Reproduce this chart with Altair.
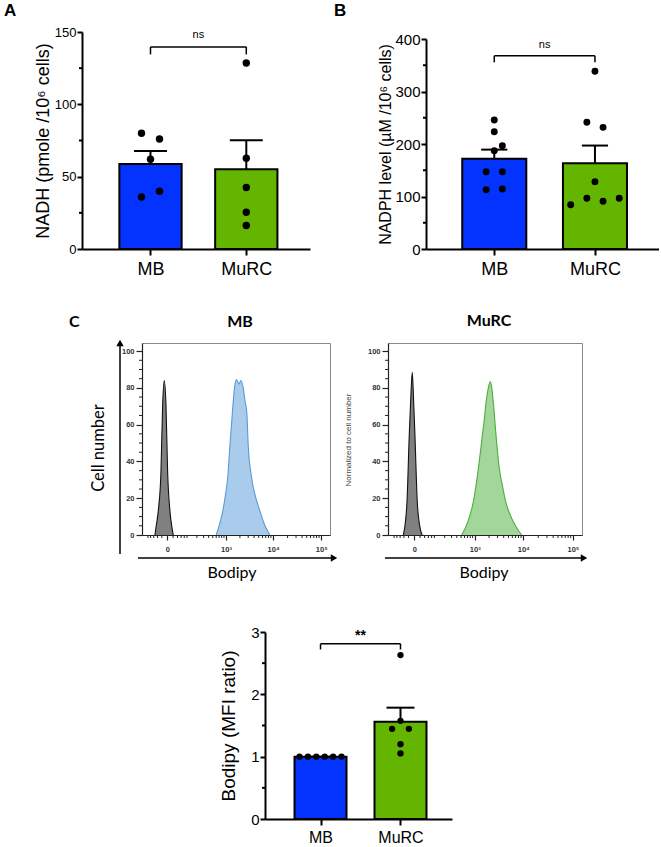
import altair as alt
import pandas as pd

FONT = "Liberation Sans, Arial, sans-serif"
HFONT = "Lato"
NARROW = "Liberation Sans Narrow, Liberation Sans, Arial, sans-serif"
BLUE = "#0433FF"
GREEN = "#63B500"

groups = ["MB", "MuRC"]

# ---------------- Panel A: NADH (pmole / 10^6 cells) ----------------
nadh_mb = [80, 76, 62, 36, 40]
nadh_mb_col = [-1, 1, 0, -1, 1]
nadh_murc = [128.6, 62.8, 42.5, 25.4, 16.2]
nadh_murc_col = [0, 0, 0, 0, 0]

# ---------------- Panel B: NADPH level ----------------
nadph_mb = [245.7, 223.5, 196.8, 187.3, 147.3, 147.3, 113.0, 114.3]
nadph_mb_col = [0, 0, 1, 0, -1, 1, -1, 1]
nadph_murc = [338.4, 241.3, 231.7, 128.3, 84.4, 96.5, 90.8, 96.5]
nadph_murc_col = [0, -1, 1, 0, -3, -1, 1, 3]

# ---------------- Panel C bottom: Bodipy MFI ratio ----------------
mfi_mb = [1.0, 1.0, 1.0, 1.0, 1.0, 1.0]
mfi_mb_col = [-5, -3, -1, 1, 3, 5]
mfi_murc = [2.63, 1.575, 1.446, 1.446, 1.20, 1.052]
mfi_murc_col = [0, 0, -2, 2, 0, 0]

# ---------------- Flow histograms (Bodipy fluorescence, % of max) ----------------
mb_ctrl_x = [-53, -47.5, -35.8, -23.7, -16.7, -10.7, -4.8, 0.6, 8.2, 15.6, 20.7]
mb_ctrl_y = [0, 4, 13, 34, 71, 84, 71, 34, 13, 4, 0]
mb_stain_x = [600, 700, 841, 1000, 1086, 1219, 1380, 1530, 1700, 1900, 2100,
              2350, 2600, 2800, 3000, 3550, 4170, 5300, 6760, 8600]
mb_stain_y = [0, 5, 12.7, 24, 31, 49, 67, 80, 84.5, 82, 84,
              80, 72, 67, 49, 31, 22, 13, 5, 0]

murc_ctrl_x = [-43, -35, -26, -17, -12, -6.3, -1.8, 2.1, 9.7, 18.5, 29]
murc_ctrl_y = [0, 5, 18, 54, 72, 88.5, 72, 54, 18, 5, 0]
murc_stain_x = [518, 705, 933, 1193, 1449, 1596, 1732, 1934, 2128, 2274, 2453,
                2790, 3260, 3757, 4410, 5840, 7730, 9310]
murc_stain_y = [0, 7, 18, 36, 54, 63, 72, 80, 83.5, 80, 72,
                54, 36, 27, 18, 9, 3, 0]

flow_major = [0, 1000, 10000, 100000]
flow_minor = [-100, -80, -60, -40, -20, 20, 40, 60, 80, 100,
              200, 300, 400, 500, 600, 700, 800, 900,
              2000, 3000, 4000, 5000, 6000, 7000, 8000, 9000,
              20000, 30000, 40000, 50000, 60000, 70000, 80000, 90000]
pct_major = [0, 20, 40, 60, 80, 100]
pct_minor = [v for v in range(5, 100, 5) if v % 20 != 0]


def one_row():
    return pd.DataFrame({"k": [0]})


def spacer(w, h):
    return alt.Chart(one_row()).mark_point(opacity=0).encode(
        x=alt.X("k:Q", axis=None), y=alt.Y("k:Q", axis=None)
    ).properties(width=w, height=h)


def markers(ys):
    # invisible points that fix the vertical extent of a row in the page layout
    return [alt.Chart(one_row()).mark_point(opacity=0, size=1).encode(
        x=alt.value(20), y=alt.value(v)) for v in ys]


def bar_panel(vals_mb, cols_mb, vals_murc, cols_murc, *, width, height, ydomain,
              ymajor, yminor, xdomain, halfw, caphw, unit, ytitle, ytitle_size,
              ylab_size, xlab_size, ytitle_pad, br_top, br_leg, br_text, br_text_y,
              br_text_size, br_bold, dot_size, label=None, label_x=0, label_y=0,
              extent=(), xlab_pad=5):
    df = pd.DataFrame({
        "g": ["MB"] * len(vals_mb) + ["MuRC"] * len(vals_murc),
        "gi": [0] * len(vals_mb) + [1] * len(vals_murc),
        "v": vals_mb + vals_murc,
        "col": cols_mb + cols_murc,
    })
    xs = alt.Scale(domain=xdomain, nice=False, zero=False)
    ys = alt.Scale(domain=ydomain, nice=False, zero=False)
    xaxis = alt.Axis(values=[0, 1], labelExpr="datum.value == 0 ? 'MB' : 'MuRC'",
                     title=None, grid=False, domainColor="black", domainWidth=2,
                     tickColor="black", tickWidth=2, tickSize=6, labelFont=FONT,
                     labelFontSize=xlab_size, labelColor="black",
                     labelPadding=xlab_pad)
    yaxis = alt.Axis(values=ymajor, title=ytitle, grid=False, domainColor="black",
                     domainWidth=2, tickColor="black", tickWidth=2, tickSize=5,
                     labelFont=FONT, labelFontSize=ylab_size, labelColor="black",
                     labelPadding=1, titleFont=FONT, titleFontSize=ytitle_size,
                     titleFontWeight="normal", titleColor="black",
                     titlePadding=ytitle_pad)

    def X(f):
        return alt.X(f, scale=xs, axis=xaxis)

    def Y(f):
        return alt.Y(f, scale=ys, axis=yaxis)

    base = alt.Chart(df)
    agg = base.transform_aggregate(
        mean="mean(v)", se="stderr(v)", groupby=["g", "gi"]
    ).transform_calculate(
        x0=f"datum.gi - {halfw}", x1=f"datum.gi + {halfw}",
        c0=f"datum.gi - {caphw}", c1=f"datum.gi + {caphw}",
        top="datum.mean + datum.se",
    )
    bars = agg.mark_rect(stroke="black", strokeWidth=2).encode(
        x=X("x0:Q"), x2="x1:Q", y=Y("mean:Q"), y2=alt.datum(0),
        color=alt.Color("g:N", scale=alt.Scale(domain=groups, range=[BLUE, GREEN]),
                        legend=None),
    )
    err = agg.mark_rule(color="black", strokeWidth=2).encode(
        x=X("gi:Q"), y=Y("mean:Q"), y2="top:Q")
    cap = agg.mark_rule(color="black", strokeWidth=2).encode(
        x=X("c0:Q"), x2="c1:Q", y=Y("top:Q"))
    minor = alt.Chart(pd.DataFrame({"t": yminor})).mark_rule(
        color="black", strokeWidth=2
    ).encode(y=Y("t:Q"), x=alt.value(0), x2=alt.value(-3))
    dots = base.transform_calculate(xp=f"datum.gi + datum.col * {unit}").mark_circle(
        size=dot_size, color="black", opacity=1
    ).encode(x=X("xp:Q"), y=Y("v:Q"))
    br = pd.DataFrame({"a": [0], "b": [1], "yt": [br_top], "ty": [br_text_y],
                       "mid": [0.5], "txt": [br_text]})
    legs = pd.DataFrame({"p": [0, 1], "yt": [br_top] * 2, "yl": [br_leg] * 2})
    br_line = alt.Chart(br).mark_rule(color="black", strokeWidth=1.5).encode(
        x=X("a:Q"), x2="b:Q", y=Y("yt:Q"))
    br_legs = alt.Chart(legs).mark_rule(color="black", strokeWidth=1.5).encode(
        x=X("p:Q"), y=Y("yl:Q"), y2="yt:Q")
    br_txt = alt.Chart(br).mark_text(
        baseline="middle", font=FONT, fontSize=br_text_size,
        fontWeight="bold" if br_bold else "normal", color="black"
    ).encode(x=X("mid:Q"), y=Y("ty:Q"), text="txt:N")
    layers = [bars, err, cap, minor, dots, br_line, br_legs, br_txt]
    if label:
        lab = alt.Chart(pd.DataFrame({"t": [label]})).mark_text(
            align="left", baseline="top", font=FONT, fontWeight="bold", fontSize=17,
            color="black"
        ).encode(x=alt.value(label_x), y=alt.value(label_y), text="t:N")
        layers.append(lab)
    layers += markers(extent)
    return alt.layer(*layers).properties(width=width, height=height)


def hist_panel(ctrl_x, ctrl_y, st_x, st_y, fill, line, *, width, height, title,
               title_y, bodipy_x, arrow_x0, arrow_x1, cellnumber, section=None,
               extent=()):
    xs = alt.Scale(type="symlog", constant=65, domain=[-154, 152000], nice=False,
                   zero=False)
    ys = alt.Scale(domain=[0, 104.4], nice=False)
    ctrl = pd.DataFrame({"x": ctrl_x, "y": ctrl_y})
    st = pd.DataFrame({"x": st_x, "y": st_y})
    xaxis = alt.Axis(values=flow_major,
                     labelExpr="datum.value == 0 ? '0' : datum.value == 1000 ? '10³' : "
                               "datum.value == 10000 ? '10⁴' : '10⁵'",
                     title=None, grid=False, domainColor="#222", domainWidth=1.2,
                     tickColor="#222", tickWidth=1.2, tickSize=5, labelFont=NARROW,
                     labelFontSize=7.5, labelFontWeight="bold", labelColor="#333",
                     labelPadding=5)
    yaxis = alt.Axis(values=pct_major, title=None, grid=False, domainColor="#222",
                     domainWidth=1.2, tickColor="#222", tickWidth=1.2, tickSize=6,
                     labelFont=NARROW, labelFontSize=7.5, labelFontWeight="bold",
                     labelColor="#333", labelPadding=2)

    def X(f):
        return alt.X(f, scale=xs, axis=xaxis)

    def Y(f):
        return alt.Y(f, scale=ys, axis=yaxis)

    a_ctrl = alt.Chart(ctrl).mark_area(
        color="#808080", opacity=1, interpolate="monotone",
        line={"color": "#111111", "strokeWidth": 1.1}
    ).encode(x=X("x:Q"), y=Y("y:Q"))
    a_st = alt.Chart(st).mark_area(
        color=fill, opacity=1, interpolate="monotone",
        line={"color": line, "strokeWidth": 1.1}
    ).encode(x=X("x:Q"), y=Y("y:Q"))
    xminor = alt.Chart(pd.DataFrame({"t": flow_minor})).mark_rule(
        color="#222", strokeWidth=1
    ).encode(x=X("t:Q"), y=alt.value(height), y2=alt.value(height + 3))
    yminor = alt.Chart(pd.DataFrame({"t": pct_minor})).mark_rule(
        color="#222", strokeWidth=1
    ).encode(y=Y("t:Q"), x=alt.value(0), x2=alt.value(-3))
    ttl = alt.Chart(pd.DataFrame({"t": [title]})).mark_text(
        font=HFONT, fontSize=16, fontWeight="bold", color="black", baseline="middle"
    ).encode(x=alt.value(width / 2 + 4), y=alt.value(title_y), text="t:N")
    bod = alt.Chart(pd.DataFrame({"t": ["Bodipy"]})).mark_text(
        font=HFONT, fontSize=16, color="black", baseline="middle"
    ).encode(x=alt.value(bodipy_x), y=alt.value(height + 38), text="t:N")
    harrow = alt.Chart(one_row()).mark_rule(color="black", strokeWidth=1.5).encode(
        x=alt.value(arrow_x0), x2=alt.value(arrow_x1), y=alt.value(height + 23))
    hhead = alt.Chart(one_row()).mark_point(
        shape="triangle-right", filled=True, color="black", opacity=1, size=55
    ).encode(x=alt.value(arrow_x1 + 2), y=alt.value(height + 23))
    layers = [a_ctrl, a_st, xminor, yminor, ttl, bod, harrow, hhead]
    if cellnumber:
        cn = alt.Chart(pd.DataFrame({"t": ["Cell number"]})).mark_text(
            font=HFONT, fontSize=16.5, color="black", angle=270, baseline="middle"
        ).encode(x=alt.value(-43), y=alt.value(105), text="t:N")
        varrow = alt.Chart(one_row()).mark_rule(color="black", strokeWidth=1.5).encode(
            x=alt.value(-22), y=alt.value(height + 19), y2=alt.value(2))
        vhead = alt.Chart(one_row()).mark_point(
            shape="triangle-up", filled=True, color="black", opacity=1, size=55
        ).encode(x=alt.value(-22), y=alt.value(0))
        layers += [cn, varrow, vhead]
    else:
        nm = alt.Chart(pd.DataFrame({"t": ["Normalized to cell number"]})).mark_text(
            font=FONT, fontSize=8, color="#444", angle=270, baseline="middle"
        ).encode(x=alt.value(-39), y=alt.value(97), text="t:N")
        layers.append(nm)
    if section:
        sc = alt.Chart(pd.DataFrame({"t": [section]})).mark_text(
            font=HFONT, fontSize=16, fontWeight="bold", color="black",
            align="left", baseline="middle"
        ).encode(x=alt.value(-73), y=alt.value(title_y), text="t:N")
        layers.append(sc)
    layers += markers(extent)
    return alt.layer(*layers).properties(
        width=width, height=height,
        view=alt.ViewBackground(stroke="#8a8a8a", strokeWidth=1),
    )


panel_a = bar_panel(
    nadh_mb, nadh_mb_col, nadh_murc, nadh_murc_col,
    width=228, height=217, ydomain=[0, 150], ymajor=[0, 50, 100, 150],
    yminor=[25, 75, 125], xdomain=[-0.715, 1.665], halfw=0.325, caphw=0.172,
    unit=0.094, ytitle="NADH (pmole /10⁶ cells)", ytitle_size=18, ylab_size=13,
    xlab_size=18, ytitle_pad=2, br_top=139.7, br_leg=134.5, br_text="ns",
    br_text_y=148, br_text_size=11, br_bold=False, dot_size=55,
    label="A", label_x=-78, label_y=-29, extent=(217 + 39,),
)

panel_b = bar_panel(
    nadph_mb, nadph_mb_col, nadph_murc, nadph_murc_col,
    width=233, height=210, ydomain=[0, 400], ymajor=[0, 100, 200, 300, 400],
    yminor=[50, 150, 250, 350], xdomain=[-0.678, 1.636], halfw=0.318, caphw=0.13,
    unit=0.0804, ytitle="NADPH level (µM /10⁶ cells)", ytitle_size=16, ylab_size=15,
    xlab_size=18, ytitle_pad=1, br_top=368, br_leg=355.6, br_text="ns",
    br_text_y=388.6, br_text_size=11, br_bold=False, dot_size=48,
    label="B", label_x=-92, label_y=-36,
)

panel_c2 = bar_panel(
    mfi_mb, mfi_mb_col, mfi_murc, mfi_murc_col,
    width=187, height=187, ydomain=[0, 3], ymajor=[0, 1, 2, 3],
    yminor=[0.5, 1.5, 2.5], xdomain=[-0.694, 1.644], halfw=0.325, caphw=0.175,
    unit=0.0525, ytitle="Bodipy (MFI ratio)", ytitle_size=19, ylab_size=15,
    xlab_size=16, ytitle_pad=12, br_top=2.81, br_leg=2.72, br_text="**",
    br_text_y=2.93, br_text_size=14, br_bold=True, dot_size=40,
    extent=(-30,), xlab_pad=4,
)

hist_mb = hist_panel(
    mb_ctrl_x, mb_ctrl_y, mb_stain_x, mb_stain_y, "#a9cbec", "#5b9bd5",
    width=188, height=192, title="MB", title_y=-21, bodipy_x=90,
    arrow_x0=-4, arrow_x1=190, cellnumber=True, section="C",
    extent=(-38, 192 + 50),
)
hist_murc = hist_panel(
    murc_ctrl_x, murc_ctrl_y, murc_stain_x, murc_stain_y, "#a3d69a", "#4cae3c",
    width=194, height=192, title="MuRC", title_y=-22, bodipy_x=96,
    arrow_x0=-3, arrow_x1=194, cellnumber=False,
)

row1 = alt.hconcat(
    panel_a,
    alt.vconcat(spacer(233, 7), panel_b, spacing=0, bounds="flush"),
    spacing=116, bounds="flush",
)
row2 = alt.hconcat(spacer(2, 192), hist_mb, hist_murc, spacing=58, bounds="flush")
row3 = alt.hconcat(spacer(183, 187), panel_c2, spacing=0, bounds="flush")

chart = alt.vconcat(row1, row2, row3, spacing=15).properties(
    padding={"left": 4, "top": 2, "right": 0, "bottom": 0},
    background="white",
).configure_view(stroke=None)

chart.save("out.html", embed_options={"renderer": "svg", "actions": False})
